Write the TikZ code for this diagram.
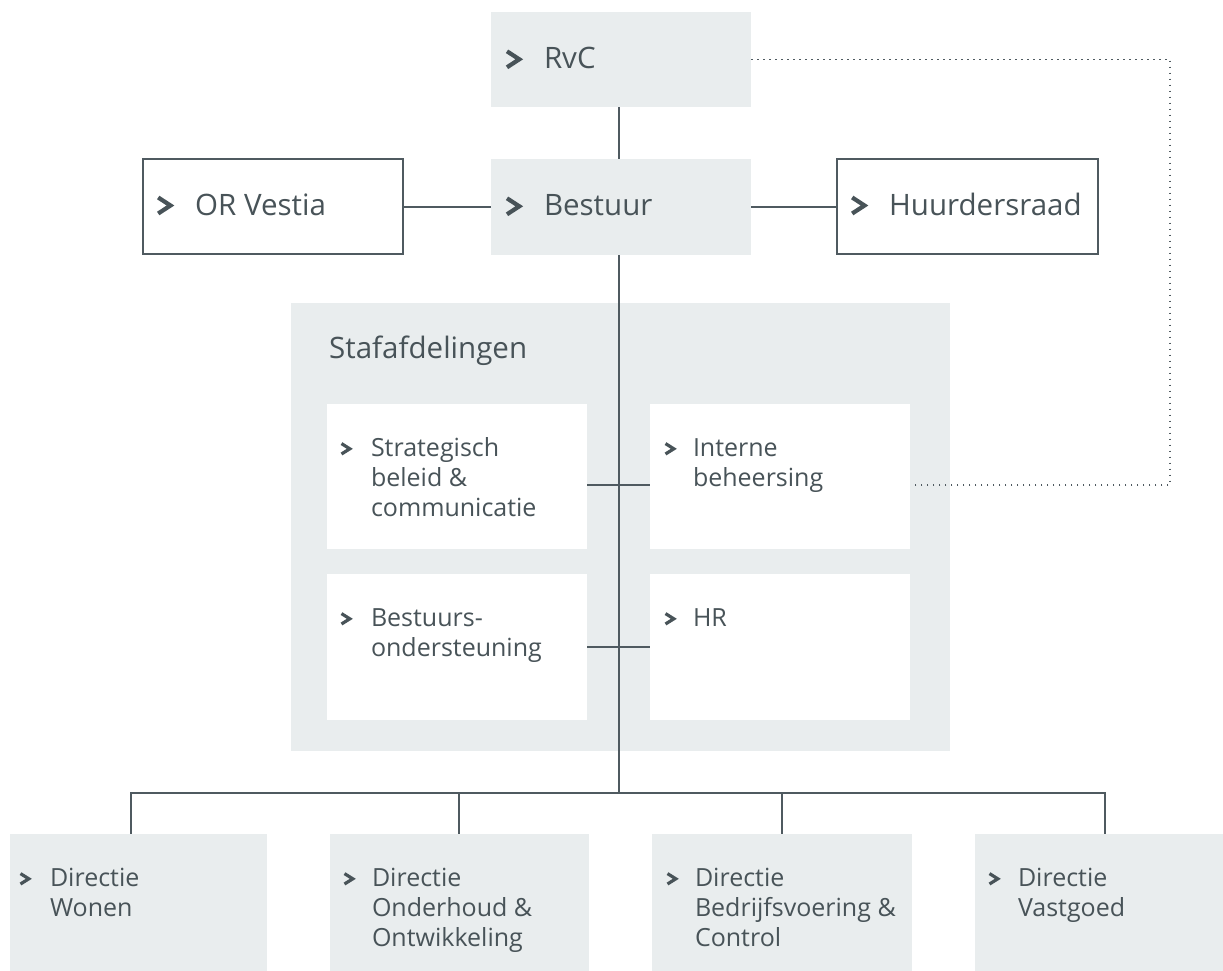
\documentclass[tikz,border=0pt]{standalone}
\usepackage{fontspec}
\setmainfont{Open Sans}
\usetikzlibrary{calc}
\definecolor{boxgray}{HTML}{E9EDEE}
\definecolor{ink}{HTML}{485358}
\definecolor{linec}{HTML}{4F5A60}
\tikzset{
  graybox/.style={fill=boxgray, draw=none, inner sep=0pt, rectangle},
  whitebox/.style={fill=white, draw=none, inner sep=0pt, rectangle},
  outlinebox/.style={fill=white, draw=linec, line width=2pt, inner sep=0pt, rectangle},
  conn/.style={draw=linec, line width=2pt},
  dotconn/.style={draw=linec, line width=1.5pt, dash pattern=on 1.5pt off 4.5pt},
  bigl/.style={text=ink, font=\fontsize{29.5}{35}\selectfont, inner sep=0pt},
  smalll/.style={text=ink, font=\fontsize{25}{30}\selectfont, inner sep=0pt},
  bigchev/.pic={\draw[draw=ink, line width=4.2pt, miter limit=10] (2.2,-8) -- (14.5,0) -- (2.2,8);},
  smallchev/.pic={\draw[draw=ink, line width=3.2pt, miter limit=10] (1.7,-5.2) -- (10,0) -- (1.7,5.2);}
}
\newcommand\mkbox[6]{\node[#1, minimum width={(#5-#3)*1pt}, minimum height={(#6-#4)*1pt}] (#2) at ({(#3+#5)/2},{(#4+#6)/2}) {};}
\newcommand\biglabel[3]{%
  \node[bigl, anchor=base west] (#2) at ($(#1.north west)+(53,57)$) {#3};
  \pic at ($(#1.north west)+(14,47.5)$) {bigchev};}
\newcommand\smlabel[5]{%
  \node[smalll, anchor=base west] (#2) at ($(#1.north west)+(#4,53)$) {\parbox[t]{215pt}{\raggedright #5}};
  \pic at ($(#1.north west)+(#3,45)$) {smallchev};}
\begin{document}
\begin{tikzpicture}[x=1pt, y=-1pt]
\useasboundingbox (0,0) rectangle (1223,971);
% top boxes
\mkbox{graybox}{rvc}{491}{12}{751}{107}
\mkbox{graybox}{bestuur}{491}{159}{751}{255}
\mkbox{outlinebox}{orv}{143}{159}{403}{254}
\mkbox{outlinebox}{huur}{837}{159}{1098}{254}
% staff
\mkbox{graybox}{staf}{291}{303}{950}{751}
\mkbox{whitebox}{strat}{327}{404}{587}{549}
\mkbox{whitebox}{intern}{650}{404}{910}{549}
\mkbox{whitebox}{bsupp}{327}{574}{587}{720}
\mkbox{whitebox}{hr}{650}{574}{910}{720}
% directies
\mkbox{graybox}{wonen}{10}{834}{267}{971}
\mkbox{graybox}{onder}{330}{834}{589}{971}
\mkbox{graybox}{bedr}{652}{834}{912}{971}
\mkbox{graybox}{vast}{975}{834}{1223}{971}
% labels
\biglabel{rvc}{rvcl}{RvC}
\biglabel{bestuur}{bestuurl}{Bestuur}
\biglabel{orv}{orvl}{OR Vestia}
\biglabel{huur}{huurl}{Huurdersraad}
\node[bigl, anchor=base west] (stafl) at (329,358) {Stafafdelingen};
\smlabel{strat}{stratl}{13}{44}{Strategisch\\beleid \&\\communicatie}
\smlabel{intern}{internl}{14}{43}{Interne\\beheersing}
\smlabel{bsupp}{bsuppl}{13}{44}{Bestuurs-\\ondersteuning}
\smlabel{hr}{hrl}{14}{43}{HR}
\smlabel{wonen}{wonenl}{9}{40}{Directie\\Wonen}
\smlabel{onder}{onderl}{13}{42}{Directie\\Onderhoud \&\\Ontwikkeling}
\smlabel{bedr}{bedrl}{14}{43}{Directie\\Bedrijfsvoering \&\\Control}
\smlabel{vast}{vastl}{13}{43}{Directie\\Vastgoed}
% connectors
\coordinate (spine) at (618.5,793);
\coordinate (dw) at (131,793);
\coordinate (don) at (459,793);
\coordinate (dbe) at (782,793);
\coordinate (dva) at (1105,793);
\coordinate (dotc) at (1170,485);
\draw[conn] (rvc.south -| spine) -- (bestuur.north -| spine);
\draw[conn] (bestuur.south -| spine) -- (spine);
\draw[conn] (orv.east) -- (bestuur.west |- orv.east);
\draw[conn] (bestuur.east |- huur.west) -- (huur.west);
\draw[conn] (strat.east |- dotc) -- (intern.west |- dotc);
\draw[conn] ($(bsupp.east)+(0,-0.5)$) -- ($(hr.west)+(0,-0.5)$);
\draw[conn] (dw |- wonen.north) -- (dw) -- (dva) -- (dva |- vast.north);
\draw[conn] (don) -- (don |- onder.north);
\draw[conn] (dbe) -- (dbe |- bedr.north);
\draw[dotconn] (rvc.east) -| (dotc) -- ($(dotc -| intern.east)+(2,0)$);
\end{tikzpicture}
\end{document}
